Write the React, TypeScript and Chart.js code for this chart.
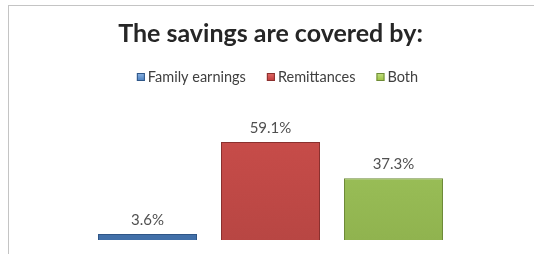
import React, { useEffect, useRef } from "react";
import { Chart, registerables } from "chart.js";

Chart.register(...registerables);

const categories = [""];
const seriesNames = ["Family earnings", "Remittances", "Both"];
const seriesValues = [3.6, 59.1, 37.3];
const titleText = "The savings are covered by:";

const palettes = [
  { top: "#8db3e2", mid: "#5a8ac6", bottom: "#416fa8", border: "#2f5687", legend: "#4a7fc0" },
  { top: "#e06a66", mid: "#cc4e4b", bottom: "#b84643", border: "#8a302e", legend: "#c0393b" },
  { top: "#c2e083", mid: "#a2c85e", bottom: "#90b34f", border: "#6d8a38", legend: "#9bc13e" },
];

const FONT = "Lato, 'Open Sans', sans-serif";

const labelPlugin = {
  id: "valueLabels",
  afterDatasetsDraw(chart: any) {
    const ctx = chart.ctx;
    ctx.save();
    ctx.font = `15px ${FONT}`;
    ctx.fillStyle = "#505050";
    ctx.textAlign = "center";
    ctx.textBaseline = "alphabetic";
    chart.data.datasets.forEach((ds: any, i: number) => {
      const meta = chart.getDatasetMeta(i);
      meta.data.forEach((el: any, j: number) => {
        const v = ds.data[j];
        ctx.fillText(v.toFixed(1) + "%", el.x, el.y - 9);
      });
    });
    ctx.restore();
  },
};

const legendPlugin = {
  id: "customLegend",
  afterDraw(chart: any) {
    const ctx = chart.ctx;
    ctx.save();
    ctx.font = `14.5px ${FONT}`;
    ctx.textBaseline = "middle";
    ctx.textAlign = "left";
    const box = 8;
    const gap = 3;
    const between = 21;
    const items = chart.data.datasets.map((ds: any) => ({
      text: ds.label,
      w: box + gap + ctx.measureText(ds.label).width,
    }));
    const total = items.reduce((s: number, it: any) => s + it.w, 0) + between * (items.length - 1);
    const cx = 268.5;
    const cy = 71;
    let x = cx - total / 2;
    items.forEach((it: any, i: number) => {
      const g = ctx.createLinearGradient(0, cy - box / 2, 0, cy + box / 2);
      g.addColorStop(0, palettes[i].top);
      g.addColorStop(1, palettes[i].legend);
      ctx.fillStyle = g;
      ctx.fillRect(x, cy - box / 2, box, box);
      ctx.strokeStyle = palettes[i].border;
      ctx.lineWidth = 1;
      ctx.strokeRect(x + 0.5, cy - box / 2 + 0.5, box - 1, box - 1);
      ctx.fillStyle = "#404040";
      ctx.fillText(it.text, x + box + gap, cy + 0.5);
      x += it.w + between;
    });
    ctx.restore();
  },
};

export default function App() {
  const ref = useRef<HTMLCanvasElement | null>(null);
  useEffect(() => {
    if (!ref.current) return;
    const chart = new Chart(ref.current, {
      type: "bar",
      data: {
        labels: categories,
        datasets: seriesNames.map((name, i) => ({
          label: name,
          data: [seriesValues[i]],
          backgroundColor: (c: any) => {
            const area = c.chart.chartArea;
            const el = c.element;
            if (!area || !el) return palettes[i].mid;
            const y0 = el.y ?? area.top;
            const y1 = el.base ?? area.bottom;
            const g = c.chart.ctx.createLinearGradient(0, y0, 0, Math.max(y1, y0 + 1));
            g.addColorStop(0, palettes[i].top);
            g.addColorStop(0.06, palettes[i].mid);
            g.addColorStop(1, palettes[i].bottom);
            return g;
          },
          borderColor: palettes[i].border,
          borderWidth: 1,
          categoryPercentage: 1,
          barPercentage: 0.805,
        })),
      },
      options: {
        animation: false,
        responsive: false,
        layout: { padding: { left: 77, right: 71, top: 0, bottom: 14 } },
        scales: {
          x: { display: false },
          y: { display: false, min: 0, max: 86.9 },
        },
        plugins: {
          title: {
            display: true,
            text: titleText,
            color: "#262626",
            font: { family: FONT, size: 25, weight: "bold", lineHeight: 1 },
            padding: { top: 15.5, bottom: 49.4 },
          },
          legend: { display: false },
          tooltip: { enabled: false },
        },
      },
      plugins: [labelPlugin, legendPlugin],
    });
    return () => chart.destroy();
  }, []);
  return (
    <div
      style={{
        position: "absolute",
        top: 5,
        left: 8,
        borderTop: "1px solid #c4c4c4",
        borderLeft: "1px solid #c4c4c4",
        width: 525,
        height: 248,
        overflow: "hidden",
      }}
    >
      <canvas ref={ref} width={517} height={248} style={{ display: "block" }} />
    </div>
  );
}
